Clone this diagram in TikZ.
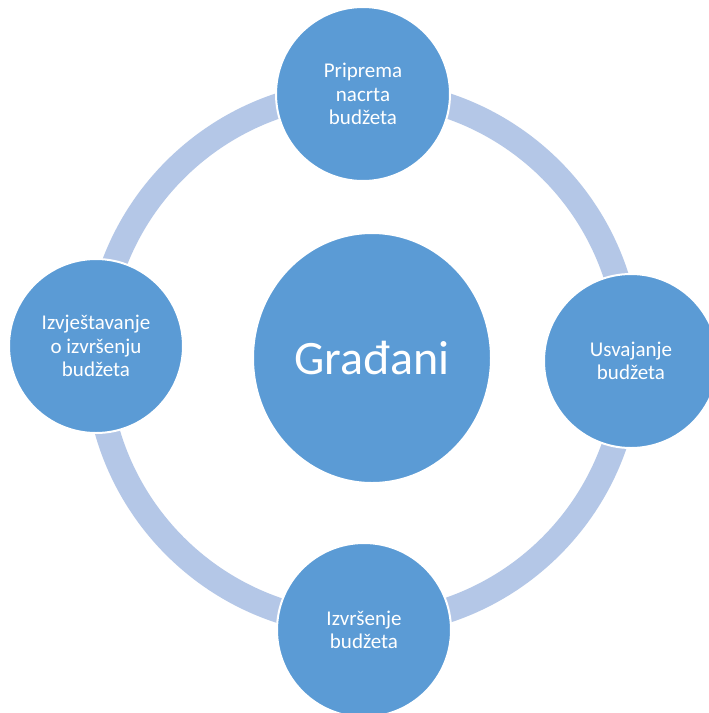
\documentclass[tikz,border=0pt]{standalone}
\usepackage{fontspec}
\setmainfont{Carlito}
\usetikzlibrary{shapes.geometric}
\definecolor{circblue}{HTML}{5B9BD5}
\definecolor{ringblue}{HTML}{B4C7E7}
\tikzset{
  stage/.style={circle, fill=circblue, draw=white, line width=2pt, minimum size=174pt,
    inner sep=0pt, align=center, text=white, font=\fontsize{21}{23.5}\selectfont},
  hub/.style={ellipse, fill=circblue, draw=white, line width=2pt, minimum width=238pt,
    minimum height=250pt, inner sep=0pt, text=white, font=\fontsize{48}{52}\selectfont},
  ring/.style={draw=ringblue, line width=25pt}
}
\begin{document}
\begin{tikzpicture}[x=1pt, y=-1pt]
\useasboundingbox[fill=white] (0,0) rectangle (709,713);
\coordinate (o) at (363,358);
\draw[ring] (o) circle[radius=266];
\node[hub] (hub) at (372,358) {Građani};
\node[stage] (top) at (363,94) {Priprema\\nacrta\\budžeta};
\node[stage] (right) at (631,361) {Usvajanje\\budžeta};
\node[stage] (bottom) at (364,630) {Izvršenje\\budžeta};
\node[stage] (left) at (96,346) {Izvještavanje\\o izvršenju\\budžeta};
\end{tikzpicture}
\end{document}
